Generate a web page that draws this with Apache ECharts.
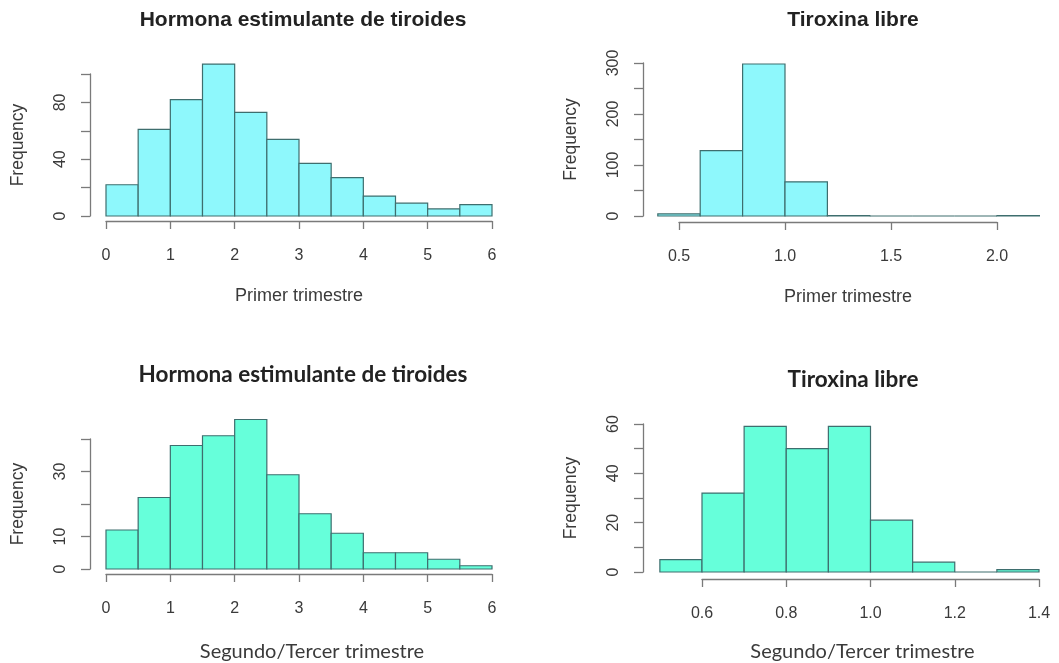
<!DOCTYPE html>
<html>
<head>
<meta charset="utf-8">
<script src="https://cdn.jsdelivr.net/npm/echarts@6/dist/echarts.min.js"></script>
<style>
  html, body { margin: 0; padding: 0; background: #fff; }
  #main { width: 1059px; height: 663px; }
</style>
</head>
<body>
<div id="main"></div>
<script>
// TSH, primer trimestre
var tshBreaks1 = [0, 0.5, 1, 1.5, 2, 2.5, 3, 3.5, 4, 4.5, 5, 5.5, 6];
var tshCounts1 = [22, 61, 82, 107, 73, 54, 37, 27, 14, 9, 5, 8];
var tshYLabels1 = [0, 40, 80];
// T4 libre, primer trimestre
var t4Breaks1 = [0.4, 0.6, 0.8, 1.0, 1.2, 1.4, 1.6, 1.8, 2.0, 2.2];
var t4Counts1 = [4, 128, 298, 67, 1, 0, 0, 0, 1];
var t4YLabels1 = [0, 100, 200, 300];
// TSH, segundo/tercer trimestre
var tshBreaks2 = [0, 0.5, 1, 1.5, 2, 2.5, 3, 3.5, 4, 4.5, 5, 5.5, 6];
var tshCounts2 = [12, 22, 38, 41, 46, 29, 17, 11, 5, 5, 3, 1];
var tshYLabels2 = [0, 10, 30];
// T4 libre, segundo/tercer trimestre
var t4Breaks2 = [0.5, 0.6, 0.7, 0.8, 0.9, 1.0, 1.1, 1.2, 1.3, 1.4];
var t4Counts2 = [5, 32, 59, 50, 59, 21, 4, 0, 1];
var t4YLabels2 = [0, 20, 40, 60];

var titleTSH = 'Hormona estimulante de tiroides';
var titleT4 = 'Tiroxina libre';
var nameTop = 'Primer trimestre';
var nameBottom = 'Segundo/Tercer trimestre';

var colTop = '#8ef8fc';
var colBottom = '#66ffda';

function toBins(breaks, counts) {
    var out = [];
    for (var i = 0; i < counts.length; i++) {
        out.push([breaks[i], breaks[i + 1], counts[i]]);
    }
    return out;
}

function histSeries(idx, breaks, counts, color) {
    return {
        type: 'custom',
        xAxisIndex: idx,
        yAxisIndex: idx,
        clip: false,
        data: toBins(breaks, counts),
        renderItem: function (params, api) {
            var p0 = api.coord([api.value(0), 0]);
            var p1 = api.coord([api.value(1), api.value(2)]);
            return {
                type: 'rect',
                shape: { x: p0[0], y: p1[1], width: p1[0] - p0[0], height: p0[1] - p1[1] },
                style: { fill: color, stroke: '#3e6e6e', lineWidth: 1.2 }
            };
        }
    };
}

var axisCol = '#7a7a7a';
var txtCol = '#3a3a3a';

function xAxisOf(idx, min, max, step, digits, off, name, font, gap, shift) {
    return {
        type: 'value', gridIndex: idx, min: min, max: max, interval: step,
        offset: off,
        name: name, nameLocation: 'middle', nameGap: gap,
        nameTextStyle: { color: txtCol, fontSize: font.size, fontFamily: font.family, padding: [0, 0, 0, shift] },
        axisLine: { onZero: false, lineStyle: { color: axisCol, width: 1.3 } },
        axisTick: { length: 8, lineStyle: { color: axisCol, width: 1.3 } },
        axisLabel: {
            color: txtCol, fontSize: 16, fontFamily: 'Liberation Sans', margin: 27,
            formatter: function (v) { return v.toFixed(digits); }
        },
        splitLine: { show: false }
    };
}

function yAxisOf(idx, max, step, shown, off) {
    return {
        type: 'value', gridIndex: idx, min: 0, max: max, interval: step,
        offset: off,
        name: 'Frequency', nameLocation: 'middle', nameRotate: 90, nameGap: 63,
        nameTextStyle: { color: txtCol, fontSize: 17.5, fontFamily: 'Liberation Sans' },
        axisLine: { show: true, onZero: false, lineStyle: { color: axisCol, width: 1.3 } },
        axisTick: { show: true, length: 9, lineStyle: { color: axisCol, width: 1.3 } },
        axisLabel: {
            color: txtCol, fontSize: 16, fontFamily: 'Liberation Sans', rotate: 90, margin: 21,
            formatter: function (v) { return shown.indexOf(Math.round(v)) >= 0 ? String(Math.round(v)) : ''; }
        },
        splitLine: { show: false }
    };
}

var chart = echarts.init(document.getElementById('main'), null, { renderer: 'canvas' });

var topFont = { family: 'Liberation Sans', size: 18 };
var botFont = { family: 'Lato', size: 20 };

var option = {
    animation: false,
    backgroundColor: '#ffffff',
    title: [
        { text: titleTSH, left: 298, top: 5, textAlign: 'center',
          textStyle: { fontSize: 21, fontWeight: 'bold', fontFamily: 'Liberation Sans', color: '#222' } },
        { text: titleT4, left: 848, top: 5, textAlign: 'center',
          textStyle: { fontSize: 21, fontWeight: 'bold', fontFamily: 'Liberation Sans', color: '#222' } },
        { text: titleTSH, left: 298, top: 358, textAlign: 'center',
          textStyle: { fontSize: 22.5, fontWeight: 'bold', fontFamily: 'Lato', color: '#222' } },
        { text: titleT4, left: 848, top: 363, textAlign: 'center',
          textStyle: { fontSize: 22.5, fontWeight: 'bold', fontFamily: 'Lato', color: '#222' } }
    ],
    grid: [
        { left: 106, width: 386, top: 74, height: 142 },
        { left: 679, width: 318, top: 63, height: 153 },
        { left: 106, width: 386, top: 439, height: 133 },
        { left: 702, width: 337, top: 424, height: 152 }
    ],
    xAxis: [
        xAxisOf(0, 0, 6, 1, 0, 5, nameTop, topFont, 66, 0),
        xAxisOf(1, 0.5, 2.0, 0.5, 1, 6, nameTop, topFont, 66, 20),
        xAxisOf(2, 0, 6, 1, 0, 5, nameBottom, botFont, 68, 26),
        xAxisOf(3, 0.6, 1.4, 0.2, 1, 7, nameBottom, botFont, 63, -16)
    ],
    yAxis: [
        yAxisOf(0, 100, 20, tshYLabels1, 16),
        yAxisOf(1, 300, 50, t4YLabels1, 36),
        yAxisOf(2, 40, 10, tshYLabels2, 16),
        yAxisOf(3, 60, 10, t4YLabels2, 59)
    ],
    series: [
        histSeries(0, tshBreaks1, tshCounts1, colTop),
        histSeries(1, t4Breaks1, t4Counts1, colTop),
        histSeries(2, tshBreaks2, tshCounts2, colBottom),
        histSeries(3, t4Breaks2, t4Counts2, colBottom)
    ]
};

chart.setOption(option);
window.addEventListener('resize', chart.resize);
</script>
</body>
</html>
